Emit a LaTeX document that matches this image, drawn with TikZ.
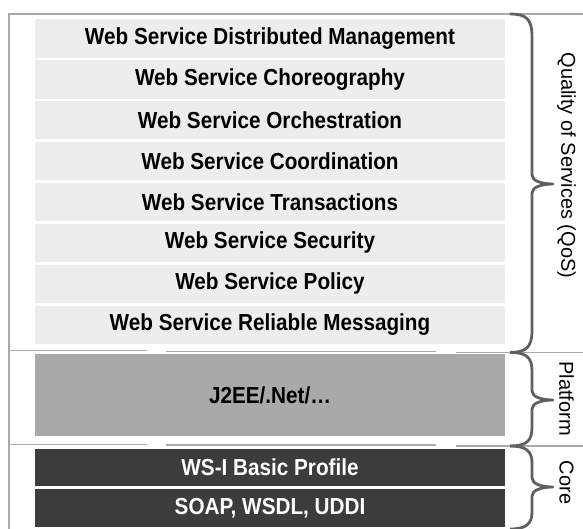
\documentclass[tikz,border=0pt]{standalone}
\usepackage{fontspec}
\setmainfont{Liberation Sans}
\usepackage{xcolor}
\usetikzlibrary{positioning}
\definecolor{qlight}{RGB}{237,237,237}
\definecolor{pgray}{RGB}{169,169,169}
\definecolor{cdark}{RGB}{60,60,60}
\definecolor{bgray}{RGB}{96,96,96}
\definecolor{lgray}{RGB}{170,170,170}
\tikzset{
  layer/.style ={rectangle, inner sep=0pt, minimum width=470pt, align=center,
                 font=\fontsize{20.7}{24}\selectfont\bfseries},
  qos/.style   ={layer, fill=qlight, minimum height=38.4pt},
  plat/.style  ={layer, fill=pgray, minimum height=82pt},
  core/.style  ={layer, fill=cdark, text=white, minimum height=37.5pt},
  sep/.style   ={draw=lgray, line width=1.1pt},
  brc/.style   ={draw=bgray, line width=2.8pt, line join=round},
  side/.style  ={rotate=-90, inner sep=0pt, font=\fontsize{20}{24}\selectfont}
}
% slightly taller lettering, as in the picture
\newcommand{\tall}[1]{\scalebox{1}[1.12]{#1}}
% curly brace on the right, from y=#2 down to y=#3, tip at y=#4
\newcommand{\layerbrace}[4][20]{%
  \draw[brc] (510,#2) .. controls (526,#2) and (532,#2+5) .. (532,#2+#1)
    -- (532,#4-9) .. controls (532,#4-3) and (542,#4) .. (553,#4)
    .. controls (542,#4) and (532,#4+3) .. (532,#4+9)
    -- (532,#3-#1) .. controls (532,#3-5) and (526,#3) .. (510,#3);}

\begin{document}
\begin{tikzpicture}[x=1pt, y=-1pt]
\useasboundingbox (0,0) rectangle (583,529);

% frame
\draw[sep] (9,529) -- (9,14) -- (583,14);
\draw[sep] (9,350.8) -- (147,350.8);
\draw[sep] (166,351.6) -- (436,351.6);
\draw[sep] (456,352.4) -- (583,352.4);
\draw[sep] (9,444.2) -- (147,444.2);
\draw[sep] (166,445) -- (436,445);
\draw[sep] (456,446) -- (583,446);

% quality of services
\node[qos] (mgmt)  at (270,38.5)  {\tall{Web Service Distributed Management}};
\node[qos] (chor)  at (270,79.4)  {\tall{Web Service Choreography}};
\node[qos] (orch)  at (270,120.3) {\tall{Web Service Orchestration}};
\node[qos] (coord) at (270,161.2) {\tall{Web Service Coordination}};
\node[qos] (trans) at (270,202.1) {\tall{Web Service Transactions}};
\node[qos] (secu)  at (270,243.0) {\tall{Web Service Security}};
\node[qos] (poli)  at (270,283.9) {\tall{Web Service Policy}};
\node[qos] (relm)  at (270,324.8) {\tall{Web Service Reliable Messaging}};

% platform
\node[plat] (j2ee) at (270,395) {\tall{J2EE/.Net/\dots}};

% core
\node[core] (wsi)  at (270,467.3) {\tall{WS-I Basic Profile}};
\node[core] (soap) at (270,508.1) {\tall{SOAP, WSDL, UDDI}};

% braces and labels
\layerbrace[22]{14}{352.4}{184}
\layerbrace[18]{352.4}{446}{400}
\layerbrace[17]{446}{529}{487}
\node[side] (lqos)  at (566.5,165.5) {Quality of Services (QoS)};
\node[side] (lplat) at (566.5,398.5) {Platform};
\node[side] (lcore) at (566.5,482.5) {Core};
\end{tikzpicture}
\end{document}
